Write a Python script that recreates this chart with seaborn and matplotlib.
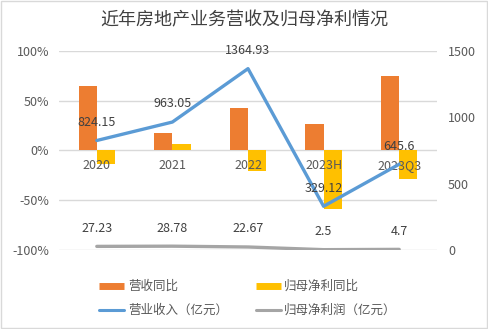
import matplotlib
matplotlib.use("Agg")
import matplotlib.pyplot as plt
import seaborn as sns
import pandas as pd
import numpy as np
from matplotlib.lines import Line2D
from matplotlib.patches import Rectangle

categories = ["2020", "2021", "2022", "2023H", "2023Q3"]
rev_yoy = [0.65, 0.17, 0.42, 0.26, 0.75]
profit_yoy = [-0.14, 0.06, -0.21, -0.59, -0.29]
revenue = [824.15, 963.05, 1364.93, 329.12, 645.6]
net_profit = [27.23, 28.78, 22.67, 2.5, 4.7]
left_ticks = [1.0, 0.5, 0.0, -0.5, -1.0]
left_tick_labels = ["100%", "50%", "0%", "-50%", "-100%"]
right_ticks = [0, 500, 1000, 1500]

sns.set_theme(style="white")
plt.rcParams['font.family'] = ['Noto Sans CJK SC', 'DejaVu Sans']

c_orange = "#ED7D31"
c_yellow = "#FFC000"
c_blue = "#5B9BD5"
c_grey = "#A5A5A5"
c_text = "#595959"

df = pd.DataFrame({
    "cat": categories * 2,
    "val": rev_yoy + profit_yoy,
    "series": ["营收同比"] * len(categories) + ["归母净利同比"] * len(categories),
})

fig = plt.figure(figsize=(4.88, 3.29), dpi=100)
ax = fig.add_axes([59 / 488, 1 - 250 / 329, (437 - 59) / 488, (250 - 50.7) / 329])

sns.barplot(data=df, x="cat", y="val", hue="series", order=categories,
            hue_order=["营收同比", "归母净利同比"],
            palette=[c_orange, c_yellow], saturation=1, width=0.48, ax=ax, legend=False,
            edgecolor="none", linewidth=0, zorder=2)

ax.set_ylim(-1, 1)
ax.set_xlim(-0.5, len(categories) - 0.5)
ax.set_yticks(left_ticks)
ax.set_yticklabels(left_tick_labels)
ax.yaxis.grid(True, color="#D9D9D9", linewidth=1)
ax.set_axisbelow(True)
for s in ["top", "right", "left", "bottom"]:
    ax.spines[s].set_visible(False)
ax.tick_params(axis="y", length=0, labelsize=9, colors=c_text, pad=7)
ax.tick_params(axis="x", length=0, labelbottom=False)
ax.set_xlabel("")
ax.set_ylabel("")
for i, c in enumerate(categories):
    ax.annotate(c, (i, 0), xytext=(0, -11), textcoords="offset points",
                ha="center", va="center", fontsize=9, color=c_text, zorder=6)

ax2 = ax.twinx()
x = np.arange(len(categories))
sns.lineplot(x=x, y=revenue, ax=ax2, color=c_blue, linewidth=2.4, legend=False)
sns.lineplot(x=x, y=net_profit, ax=ax2, color=c_grey, linewidth=2.4, legend=False)
ax2.set_ylim(0, 1500)
ax2.set_yticks(right_ticks)
ax2.set_yticklabels([str(t) for t in right_ticks])
ax2.tick_params(axis="y", length=0, labelsize=9, colors=c_text, pad=8)
for s in ["top", "right", "left", "bottom"]:
    ax2.spines[s].set_visible(False)
ax2.set_ylabel("")
ax2.grid(False)

for xi, v in zip(x, revenue):
    ax2.annotate(f"{v:g}", (xi, v), xytext=(0, 13), textcoords="offset points",
                 ha="center", va="center", fontsize=9, color="#404040")
for xi, v in zip(x, net_profit):
    ax2.annotate(f"{v:g}", (xi, v), xytext=(0, 13), textcoords="offset points",
                 ha="center", va="center", fontsize=9, color="#404040")

fig.text(0.5, 1 - 20 / 329, "近年房地产业务营收及归母净利情况", ha="center", va="center",
         fontsize=13, color="#404040")

handles = [
    Line2D([0], [0], color=c_orange, lw=5, solid_capstyle="butt"),
    Line2D([0], [0], color=c_blue, lw=2.2),
    Line2D([0], [0], color=c_yellow, lw=5, solid_capstyle="butt"),
    Line2D([0], [0], color=c_grey, lw=2.2),
]
labels = ["营收同比", "营业收入（亿元）", "归母净利同比", "归母净利润（亿元）"]
leg = fig.legend(handles, labels, ncol=2, loc="center", bbox_to_anchor=(248 / 488, 1 - 298.5 / 329),
                 frameon=False, fontsize=9, handlelength=2.0, columnspacing=2.2,
                 handletextpad=0.3, labelspacing=0.9, labelcolor=c_text)

fig.patches.append(Rectangle((0.002, 0.003), 0.996, 0.994, transform=fig.transFigure,
                             fill=False, edgecolor="#D9D9D9", linewidth=1))

fig.savefig("out.png", dpi=100)
